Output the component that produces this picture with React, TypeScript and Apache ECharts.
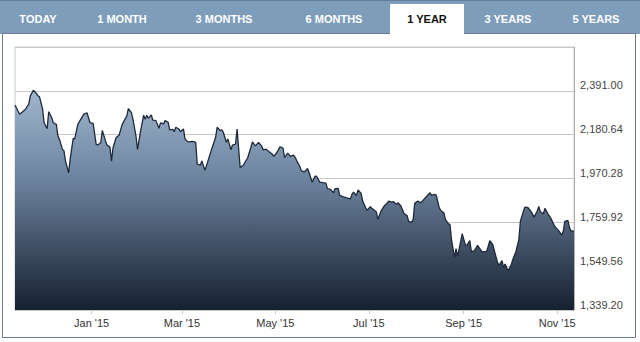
import React, { useEffect, useRef } from "react";
import * as echarts from "echarts";

// Series start date (Nov 12, 2014) and one-year window
const startYear = 2014;
const startMonth = 10; // November (0-based)
const startDay = 12;
const windowDays = 365;

// Days elapsed since start date for each reading
const daysSinceStart = [
  0, 3, 5, 7, 9, 10, 12, 14, 15, 16, 18, 19, 21, 22, 24, 25, 27, 28, 29, 31, 32, 33, 35, 36, 38, 39,
  41, 43, 45, 47, 49, 51, 53, 54, 56, 57, 59, 60, 62, 63, 64, 66, 68, 70, 73, 74, 76, 77, 79, 80,
  82, 84, 85, 86, 87, 89, 90, 92, 94, 95, 97, 98, 100, 101, 103, 104, 105, 107, 108, 110, 111, 113,
  116, 118, 119, 121, 122, 124, 125, 127, 129, 131, 132, 134, 135, 136, 138, 139, 141, 142, 144, 145,
  147, 149, 152, 154, 155, 157, 159, 161, 162, 164, 166, 168, 169, 171, 173, 175, 176, 178, 180, 182,
  183, 184, 186, 187, 189, 191, 192, 194, 196, 197, 199, 201, 203, 204, 206, 208, 209, 211, 212, 214,
  216, 219, 220, 221, 223, 224, 226, 227, 229, 230, 232, 233, 236, 237, 239, 241, 243, 244, 246, 247,
  249, 250, 252, 254, 256, 257, 259, 260, 261, 263, 265, 267, 269, 271, 272, 274, 275, 277, 278, 280,
  281, 283, 284, 285, 287, 288, 289, 291, 292, 294, 295, 297, 298, 300, 302, 304, 305, 308, 309, 310,
  312, 314, 315, 316, 318, 319, 320, 322, 324, 325, 327, 329, 330, 332, 333, 335, 337, 339, 341, 342,
  343, 345, 346, 348, 350, 352, 353, 355, 357, 358, 359, 361, 362, 363, 365,
];

// Index level at each reading
const indexValues = [
  2323, 2279, 2291, 2304, 2327, 2367, 2394, 2378, 2367, 2362, 2304, 2238, 2209, 2291, 2262, 2238, 2230, 2174, 2158, 2110, 2102, 2053, 1997, 2062, 2163, 2160,
  2230, 2255, 2279, 2286, 2238, 2235, 2134, 2131, 2142, 2201, 2153, 2131, 2121, 2053, 2118, 2166, 2179, 2230, 2270, 2306, 2286, 2255, 2174, 2110,
  2198, 2274, 2255, 2274, 2259, 2275, 2250, 2248, 2211, 2237, 2232, 2248, 2240, 2204, 2206, 2195, 2216, 2208, 2195, 2208, 2160, 2146,
  2148, 2144, 2039, 2034, 2055, 2010, 2031, 2079, 2124, 2168, 2216, 2200, 2204, 2192, 2144, 2160, 2108, 2131, 2135, 2208,
  2023, 2034, 2071, 2119, 2146, 2127, 2144, 2127, 2108, 2111, 2098, 2087, 2076, 2095, 2122, 2116, 2071, 2092, 2076, 2082,
  2071, 2055, 2028, 2007, 2002, 2018, 1999, 1953, 1982, 1980, 1953, 1950, 1948, 1922, 1918, 1902, 1922, 1923, 1889, 1883,
  1878, 1873, 1894, 1905, 1889, 1915, 1899, 1862, 1830, 1818, 1835, 1828, 1809, 1774, 1814, 1838, 1851, 1862, 1857, 1860,
  1846, 1854, 1838, 1802, 1793, 1765, 1760, 1774, 1851, 1862, 1854, 1870, 1886, 1902, 1889, 1894, 1891, 1830, 1817, 1806,
  1774, 1753, 1750, 1677, 1592, 1634, 1596, 1669, 1705, 1653, 1649, 1672, 1618, 1624, 1649, 1629, 1618, 1621, 1645, 1672,
  1653, 1596, 1569, 1553, 1576, 1543, 1560, 1527, 1556, 1581, 1618, 1677, 1765, 1814, 1833, 1830, 1811, 1785, 1814, 1836,
  1811, 1801, 1827, 1801, 1778, 1746, 1736, 1720, 1698, 1717, 1765, 1769, 1736, 1720, 1717,
];

// X-axis label months (year, 0-based month, day)
const monthLabelDates: [number, number, number][] = [
  [2015, 0, 1],
  [2015, 2, 1],
  [2015, 4, 1],
  [2015, 6, 1],
  [2015, 8, 1],
  [2015, 10, 1],
];
const monthNames = ["Jan", "Feb", "Mar", "Apr", "May", "Jun", "Jul", "Aug", "Sep", "Oct", "Nov", "Dec"];

// Y-axis scale
const yMin = 1339.2;
const yStep = 210.36;
const yMax = 2601.36;

// Range tabs
const tabLabels = ["TODAY", "1 MONTH", "3 MONTHS", "6 MONTHS", "1 YEAR", "3 YEARS", "5 YEARS"];
const activeTab = "1 YEAR";

const DAY = 86400000;
const FONT = 'Arial, "Liberation Sans", Helvetica, sans-serif';

export default function App() {
  const ref = useRef<HTMLDivElement>(null);

  useEffect(() => {
    if (!ref.current) return;
    const chart = echarts.init(ref.current, null, { renderer: "svg" });

    const startTs = new Date(startYear, startMonth, startDay).getTime();
    const endTs = startTs + windowDays * DAY;
    const seriesData = daysSinceStart.map((d, i) => [startTs + d * DAY, indexValues[i]]);
    const labelTs = monthLabelDates.map(([y, m, d]) => new Date(y, m, d).getTime());

    const tabCenters = [38, 122, 224, 334, 427, 508, 596];
    const tabGraphics: any[] = [
      { type: "rect", shape: { x: 0, y: 0, width: 640, height: 34 }, style: { fill: "#7e9dbb" }, z: 10 },
      { type: "line", shape: { x1: 0, y1: 0.5, x2: 640, y2: 0.5 }, style: { stroke: "#5f7c98", lineWidth: 1 }, z: 11 },
      {
        type: "rect",
        shape: { x: 2.5, y: 33.5, width: 633, height: 304 },
        style: { fill: "none", stroke: "#6c7c8c", lineWidth: 1 },
        z: 11,
      },
      { type: "rect", shape: { x: 390, y: 4, width: 74, height: 31 }, style: { fill: "#ffffff" }, z: 12 },
    ];
    tabLabels.forEach((t, i) => {
      const active = t === activeTab;
      tabGraphics.push({
        type: "text",
        x: tabCenters[i],
        y: 19,
        z: 13,
        style: {
          text: t,
          fill: active ? "#111111" : "#ffffff",
          fontFamily: FONT,
          fontWeight: "bold",
          fontSize: 11,
          align: "center",
          verticalAlign: "middle",
        },
      });
    });

    chart.setOption({
      animation: false,
      backgroundColor: "#ffffff",
      grid: {
        left: 15,
        right: 66,
        top: 47,
        bottom: 32,
        show: true,
        borderColor: "#c8c8c8",
        borderWidth: 1,
        backgroundColor: "#ffffff",
      },
      xAxis: {
        type: "value",
        min: startTs,
        max: endTs,
        axisLine: { show: true, lineStyle: { color: "#c8c8c8" } },
        axisTick: { show: true, customValues: labelTs, length: 4, lineStyle: { color: "#c8c8c8" } },
        splitLine: { show: false },
        axisLabel: {
          customValues: labelTs,
          color: "#333333",
          fontSize: 11,
          fontFamily: FONT,
          margin: 7,
          formatter: (v: number) => {
            const d = new Date(v);
            return monthNames[d.getMonth()] + " '" + String(d.getFullYear()).slice(2);
          },
        },
      },
      yAxis: {
        type: "value",
        position: "right",
        min: yMin,
        max: yMax,
        interval: yStep,
        axisLine: { show: true, lineStyle: { color: "#b0b0b0" } },
        axisTick: { show: false },
        splitLine: { show: true, lineStyle: { color: "#c8c8c8", width: 1 } },
        axisLabel: {
          showMaxLabel: false,
          color: "#444444",
          fontSize: 11,
          fontFamily: FONT,
          margin: 6,
          verticalAlign: "bottom",
          formatter: (v: number) =>
            v.toLocaleString("en-US", { minimumFractionDigits: 2, maximumFractionDigits: 2 }),
        },
      },
      series: [
        {
          type: "line",
          data: seriesData,
          showSymbol: false,
          symbol: "none",
          lineStyle: { color: "#1e2a3a", width: 1.3 },
          areaStyle: {
            opacity: 1,
            color: new echarts.graphic.LinearGradient(0, 0, 0, 1, [
              { offset: 0, color: "#a0b6ce" },
              { offset: 0.4, color: "#6d849f" },
              { offset: 1, color: "#172030" },
            ]),
          },
        },
      ],
      graphic: tabGraphics,
    });

    return () => chart.dispose();
  }, []);

  return (
    <div
      ref={ref}
      style={{ position: "absolute", left: 0, top: 0, width: 640, height: 342, background: "#ffffff" }}
    />
  );
}
